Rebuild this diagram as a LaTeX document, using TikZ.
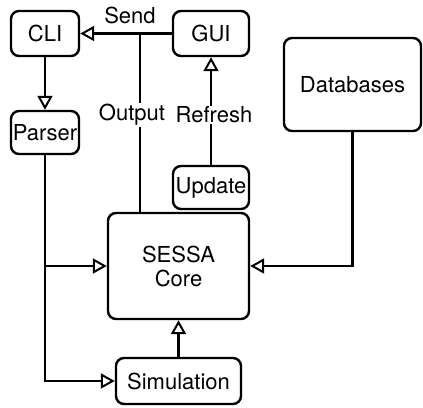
\documentclass[tikz,border=0pt]{standalone}
\usepackage{fontspec}
\setmainfont{TeX Gyre Heros}
\usetikzlibrary{arrows.meta}

\begin{document}
\begin{tikzpicture}[x=1pt,y=-1pt,
	box/.style={draw,line width=2.4pt,rounded corners=8pt,inner sep=0pt,align=center,font=\fontsize{22}{24}\selectfont},
	flow/.style={line width=2.4pt,-{Triangle[open,length=14pt,width=15pt,line width=2pt]}},
	lbl/.style={fill=white,inner sep=1pt,font=\fontsize{22}{24}\selectfont}]
	
	\useasboundingbox (0,0) rectangle (423,407);
	
	% boxes: name/x/y/width/height/text
	\foreach \n/\x/\y/\w/\h/\t in {cli/45/33.5/68/45/CLI, gui/211/33.5/76/45/GUI,
		parser/45/132.5/68/43/Parser, update/211/187.5/76/43/Update,
		core/178.5/266/141/106/SESSA\\Core, sim/178.5/381/125/46/Simulation,
		db/352.5/84.5/137/93/Databases}
	{
		\node[box,minimum width=\w pt,minimum height=\h pt] (\n) at (\x,\y) {\t};
	}
	
	\draw[flow] (gui.west) -- (cli.east);
	\node[lbl,inner sep=0pt] (sendlbl) at (130,15) {Send};
	\coordinate (send) at (140,33.5);
	\draw[line width=2.4pt] (send) -- (send |- core.north);
	\node[lbl] (output) at (132,115) {Output};
	
	\draw[flow] (update.north) -- (gui.south);
	\node[lbl] (refresh) at (214,115) {Refresh};
	
	\draw[flow] (cli.south) -- (parser.north);
	\draw[flow] (parser.south) |- (sim.west);
	\coordinate (split) at (parser.south |- core.west);
	\draw[flow] (split) -- (core.west);
	%\draw[flow] (db.west) -| (core.north);
	\draw[flow] (db.south) |- (core.east);
	\draw[flow] (sim.north) -- (core.south);
\end{tikzpicture}
\end{document}
